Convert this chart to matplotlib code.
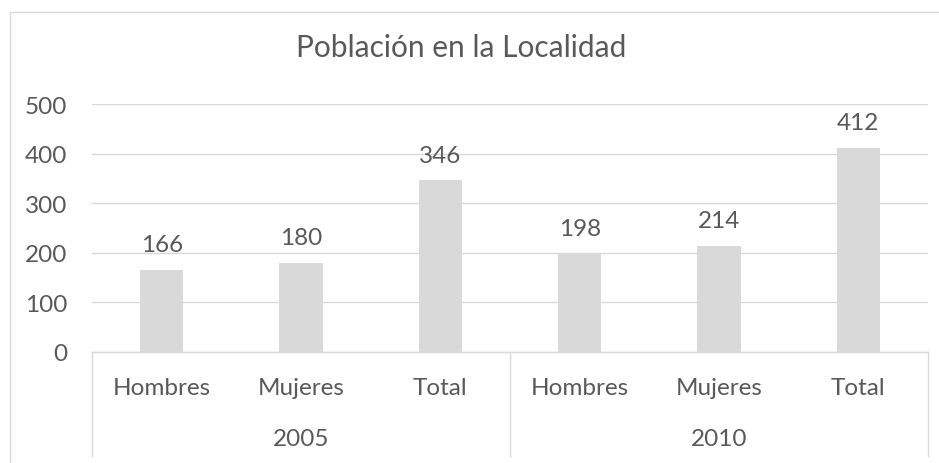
import numpy as np
import matplotlib.pyplot as plt
from matplotlib.patches import Rectangle
import matplotlib.transforms as mtransforms

years = ['2005', '2010']
groups = ['Hombres', 'Mujeres', 'Total']
values_2005 = [166, 180, 346]
values_2010 = [198, 214, 412]

values = values_2005 + values_2010
labels = groups * len(years)

plt.rcParams['font.family'] = ['Lato', 'DejaVu Sans']
text_color = '#595959'
line_color = '#D9D9D9'
bar_color = '#D9D9D9'
fs = 17.5

fig = plt.figure(figsize=(9.39, 4.64), dpi=100)
ax = fig.add_axes([92 / 939, 1 - 353 / 464, (928 - 92) / 939, (353 - 105) / 464])

x = np.arange(len(values))
ax.bar(x, values, width=0.313, color=bar_color, zorder=2)
for xi, v in zip(x, values):
    ax.annotate(str(v), (xi, v), xytext=(0, 13.5), textcoords='offset points',
                ha='center', va='baseline', fontsize=fs, color=text_color)

ax.set_xlim(-0.5, len(values) - 0.5)
ax.set_ylim(0, 500)
ax.set_yticks(range(0, 501, 100))
ax.yaxis.grid(True, color=line_color, linewidth=1.0, zorder=0)
ax.set_axisbelow(True)
ax.tick_params(axis='y', length=0, pad=18, labelsize=fs, labelcolor=text_color)
ax.set_xticks([])
for side in ['left', 'right', 'top']:
    ax.spines[side].set_visible(False)
ax.spines['bottom'].set_color(line_color)
ax.spines['bottom'].set_linewidth(1.0)

# two-level category axis
trans = mtransforms.blended_transform_factory(ax.transData, ax.transAxes)
for xi, lab in zip(x, labels):
    ax.text(xi, -0.145, lab, transform=trans, ha='center', va='center',
            fontsize=fs, color=text_color)
n = len(groups)
for i, yr in enumerate(years):
    ax.text(i * n + (n - 1) / 2, -0.347, yr, transform=trans, ha='center',
            va='center', fontsize=fs, color=text_color)
for i in range(len(years) + 1):
    ax.plot([i * n - 0.5] * 2, [0, -0.419], transform=trans, color=line_color,
            linewidth=1.0, clip_on=False)

fig.text(461.5 / 939, 1 - 56.7 / 464, 'Población en la Localidad', ha='center',
         va='baseline', fontsize=21.5, color=text_color)

# chart border (cut at right and bottom like the reference)
fig.patches.append(Rectangle((9.5 / 939, -0.1), 1.2, 1 - 12.5 / 464 + 0.1,
                             transform=fig.transFigure, fill=False,
                             edgecolor=line_color, linewidth=1.0))

fig.savefig('out.png', dpi=100, facecolor='white')
